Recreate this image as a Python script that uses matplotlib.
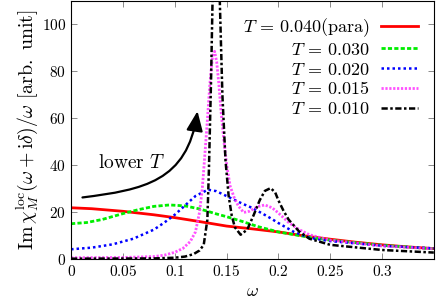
import numpy as np
import matplotlib
matplotlib.use("Agg")
import matplotlib.pyplot as plt
from matplotlib.ticker import FuncFormatter
from matplotlib.patches import FancyArrowPatch
from matplotlib.path import Path

plt.rcParams['mathtext.fontset'] = 'cm'
plt.rcParams['font.family'] = 'serif'
plt.rcParams['font.serif'] = ['DejaVu Serif']

# values
w_red = [0.0, 0.02, 0.05, 0.08, 0.1, 0.12, 0.15, 0.175, 0.2, 0.225, 0.25, 0.275, 0.3, 0.325, 0.35]
v_red = [21.8, 21.4, 20.3, 18.8, 17.6, 16.2, 14.0, 12.8, 11.5, 9.8, 8.4, 7.1, 6.0, 5.1, 4.4]

w_green = [0.0, 0.015, 0.03, 0.05, 0.065, 0.08, 0.095, 0.11, 0.125, 0.14, 0.15, 0.165, 0.18, 0.2, 0.225, 0.25, 0.3, 0.35]
v_green = [15.0, 15.5, 16.8, 19.3, 21.0, 22.4, 23.0, 22.6, 21.2, 19.2, 18.0, 16.0, 13.8, 11.5, 9.6, 8.0, 5.8, 4.3]

w_blue = [0.0, 0.02, 0.04, 0.06, 0.08, 0.09, 0.1, 0.11, 0.12, 0.132, 0.14, 0.15, 0.165, 0.175, 0.19, 0.2, 0.215, 0.23, 0.25, 0.3, 0.35]
v_blue = [4.1, 4.8, 6.2, 8.6, 12.5, 15.5, 18.8, 22.8, 26.8, 29.5, 28.9, 26.8, 23.6, 21.7, 18.0, 15.3, 11.5, 9.0, 7.6, 5.6, 4.5]

w_mag = [0.0, 0.05, 0.08, 0.09, 0.1, 0.108, 0.115, 0.12, 0.124, 0.1265, 0.128, 0.131, 0.134, 0.1365, 0.1385, 0.1405, 0.1425, 0.1445, 0.1475, 0.1505, 0.1535, 0.1575, 0.1615, 0.1665, 0.172, 0.18, 0.187, 0.194, 0.2, 0.21, 0.22, 0.23, 0.25, 0.3, 0.35]
v_mag = [0.5, 0.6, 1.0, 1.6, 2.8, 4.5, 7.4, 11.5, 20.0, 29.5, 38.0, 56.0, 75.0, 86.5, 88.5, 84.0, 75.0, 64.0, 50.0, 39.0, 31.0, 26.0, 22.5, 19.8, 20.3, 22.3, 23.0, 21.8, 19.6, 15.5, 12.5, 10.3, 8.0, 5.5, 4.3]

w_black = [0.0, 0.08, 0.1, 0.11, 0.118, 0.124, 0.128, 0.1315, 0.133, 0.135, 0.1365, 0.1385, 0.1405, 0.1425, 0.1435, 0.146, 0.149, 0.152, 0.155, 0.158, 0.1636, 0.17, 0.176, 0.182, 0.187, 0.1926, 0.197, 0.2, 0.205, 0.21, 0.22, 0.23, 0.25, 0.3, 0.35]
v_black = [0.1, 0.2, 0.5, 1.0, 2.0, 3.6, 6.0, 16.7, 38.0, 75.0, 110.0, 170.0, 200.0, 150.0, 110.0, 70.0, 42.0, 27.0, 18.5, 13.5, 10.3, 12.5, 18.5, 25.0, 29.0, 30.2, 28.3, 25.0, 20.5, 16.7, 11.7, 8.6, 6.0, 3.8, 2.7]

labels = [r'$T\,=\,0.040(\mathrm{para})$', r'$T\,=\,0.030$', r'$T\,=\,0.020$',
          r'$T\,=\,0.015$', r'$T\,=\,0.010$']

fig = plt.figure(figsize=(4.36, 3.0), dpi=100)
ax = fig.add_axes([0.163, 0.137, 0.832, 0.86])

ax.plot(w_red, v_red, color='#ff0000', lw=2.0, ls='-', label=labels[0])
ax.plot(w_green, v_green, color='#00ee00', lw=2.0, ls=(0, (1.5, 0.8)), label=labels[1])
ax.plot(w_blue, v_blue, color='#0000ff', lw=1.8, ls=(0, (1, 1.2)), label=labels[2])
ax.plot(w_mag, v_mag, color='#ff33ff', lw=2.0, ls=(0, (0.8, 0.6)), alpha=0.85, label=labels[3])
ax.plot(w_black, v_black, color='black', lw=1.8, ls=(0, (2.5, 1, 1, 1)), label=labels[4])

ax.set_xlim(0, 0.35)
ax.set_ylim(0, 110)
ax.set_xticks([0, 0.05, 0.1, 0.15, 0.2, 0.25, 0.3])
ax.set_yticks([0, 20, 40, 60, 80, 100])
ax.xaxis.set_major_formatter(FuncFormatter(lambda v, p: r'$%g$' % v))
ax.yaxis.set_major_formatter(FuncFormatter(lambda v, p: r'$%g$' % v))
ax.tick_params(direction='in', top=True, right=True, length=4, width=0.6,
               color='#777777', labelsize=11)
for s in ax.spines.values():
    s.set_linewidth(0.8)

ax.set_xlabel(r'$\omega$', fontsize=13, labelpad=2)
ax.set_ylabel(r'$\mathrm{Im}\,\chi_M^{\mathrm{loc}}(\omega+\mathrm{i}\delta)/\omega\ [\mathrm{arb.\ unit}]$',
              fontsize=14.3, labelpad=1)

# "lower T" arrow
arrow_path = Path([(0.011, 26.2), (0.07, 29.5), (0.112, 33.0), (0.122, 63.0)],
                  [Path.MOVETO, Path.CURVE4, Path.CURVE4, Path.CURVE4])
ax.add_patch(FancyArrowPatch(path=arrow_path, arrowstyle='-|>,head_length=0.6,head_width=0.25',
                             mutation_scale=20, color='black', lw=1.6))
ax.text(0.026, 41, r'$\mathrm{lower}\ T$', fontsize=14, va='center', ha='left')

ax.legend(loc='upper right', frameon=False, markerfirst=False, fontsize=13,
          handlelength=2.1, handletextpad=0.6, labelspacing=0.1,
          borderaxespad=0.75, borderpad=0.1)

fig.savefig('out.png', dpi=100)
